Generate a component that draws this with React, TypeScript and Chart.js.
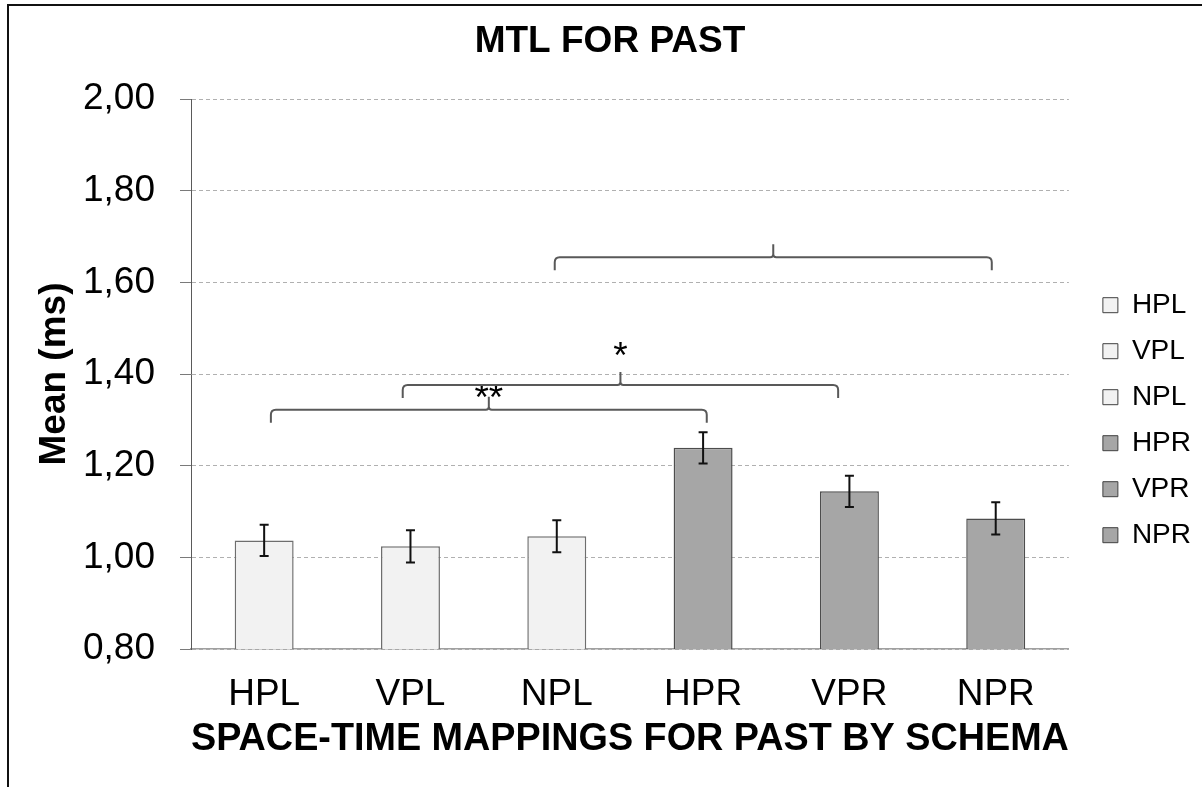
import React, { useEffect, useRef } from 'react';
import { Chart, registerables } from 'chart.js';

Chart.register(...registerables);

// ---- data ----
const categories = ['HPL', 'VPL', 'NPL', 'HPR', 'VPR', 'NPR'];
const means = [1.037, 1.024, 1.046, 1.239, 1.144, 1.085];
const errors = [0.034, 0.035, 0.035, 0.034, 0.034, 0.035];
const barColors = ['#f2f2f2', '#f2f2f2', '#f2f2f2', '#a6a6a6', '#a6a6a6', '#a6a6a6'];
const barBorders = ['#6e6e6e', '#6e6e6e', '#6e6e6e', '#4d4d4d', '#4d4d4d', '#4d4d4d'];
const yMin = 0.8;
const yMax = 2.0;
const yStep = 0.2;
// significance brackets (in category units / value units)
const bracketStart = [0.046, 0.947, 1.986];
const bracketEnd = [3.025, 3.923, 4.973];
const bracketLevel = [1.322, 1.376, 1.655];
const bracketLabel = ['**', '*', ''];
const bracketLabelLevel = [1.322, 1.413, 1.655];
const chartTitle = 'MTL FOR PAST';
const xTitle = 'SPACE-TIME MAPPINGS FOR PAST BY SCHEMA';
const yTitle = 'Mean (ms)';

const FONT = "'Liberation Sans', Arial, sans-serif";

const annotationsPlugin = {
  id: 'errorsAndBrackets',
  afterDatasetsDraw(chart: any) {
    const ctx = chart.ctx;
    const xs = chart.scales.x;
    const ys = chart.scales.y;
    const meta = chart.getDatasetMeta(0);
    ctx.save();
    // error bars
    ctx.strokeStyle = '#111111';
    ctx.lineWidth = 2;
    meta.data.forEach((bar: any, i: number) => {
      const x = bar.x;
      const t = ys.getPixelForValue(means[i] + errors[i]);
      const b = ys.getPixelForValue(means[i] - errors[i]);
      ctx.beginPath();
      ctx.moveTo(x, t);
      ctx.lineTo(x, b);
      ctx.moveTo(x - 4.5, t);
      ctx.lineTo(x + 4.5, t);
      ctx.moveTo(x - 4.5, b);
      ctx.lineTo(x + 4.5, b);
      ctx.stroke();
    });
    // brackets
    ctx.strokeStyle = '#595959';
    ctx.lineWidth = 2;
    const h = 13;
    const r = 5;
    const rc = 3;
    for (let i = 0; i < bracketStart.length; i++) {
      const x1 = xs.getPixelForValue(bracketStart[i]);
      const x2 = xs.getPixelForValue(bracketEnd[i]);
      const y = ys.getPixelForValue(bracketLevel[i]);
      const xm = (x1 + x2) / 2;
      ctx.beginPath();
      ctx.moveTo(x1, y + h);
      ctx.lineTo(x1, y + r);
      ctx.quadraticCurveTo(x1, y, x1 + r, y);
      ctx.lineTo(xm - rc, y);
      ctx.quadraticCurveTo(xm, y, xm, y - rc);
      ctx.lineTo(xm, y - h);
      ctx.moveTo(xm, y - rc);
      ctx.quadraticCurveTo(xm, y, xm + rc, y);
      ctx.lineTo(x2 - r, y);
      ctx.quadraticCurveTo(x2, y, x2, y + r);
      ctx.lineTo(x2, y + h);
      ctx.stroke();
      if (bracketLabel[i]) {
        ctx.fillStyle = '#000000';
        ctx.font = `37px ${FONT}`;
        ctx.textAlign = 'center';
        ctx.textBaseline = 'alphabetic';
        ctx.fillText(bracketLabel[i], xm, ys.getPixelForValue(bracketLabelLevel[i]));
      }
    }
    ctx.restore();
  },
};

export default function App() {
  const canvasRef = useRef<HTMLCanvasElement | null>(null);

  useEffect(() => {
    const canvas = canvasRef.current;
    if (!canvas) return;
    const chart = new Chart(canvas, {
      type: 'bar',
      data: {
        labels: categories,
        datasets: [
          {
            label: 'Mean',
            data: means,
            backgroundColor: barColors,
            borderColor: barBorders,
            borderWidth: 1.5,
            barPercentage: 0.403,
            categoryPercentage: 1,
          },
        ],
      },
      options: {
        responsive: false,
        animation: false,
        devicePixelRatio: 1,
        layout: { padding: { top: 10, bottom: 10, left: 19, right: 1 } },
        plugins: {
          tooltip: { enabled: false },
          title: {
            display: true,
            text: chartTitle,
            color: '#000000',
            font: { family: FONT, size: 37, weight: 'bold' },
            padding: { top: 9.3, bottom: 35.3 },
          },
          legend: {
            display: true,
            position: 'right',
            align: 'center',
            title: {
              display: true,
              text: ' ',
              font: { family: FONT, size: 1 },
              padding: { top: 52.2, bottom: 0 },
            },
            labels: {
              color: '#000000',
              font: { family: FONT, size: 28 },
              boxWidth: 15,
              boxHeight: 15,
              padding: 18,
              generateLabels: () =>
                categories.map((c, i) => ({
                  text: c,
                  fillStyle: barColors[i],
                  strokeStyle: '#404040',
                  fontColor: '#000000',
                  lineWidth: 1,
                  hidden: false,
                  index: i,
                  datasetIndex: 0,
                })),
            },
          },
        },
        scales: {
          x: {
            type: 'category',
            offset: true,
            grid: { display: false, drawTicks: false },
            border: { display: true, color: '#a0a0a0', width: 1.5 },
            ticks: {
              color: '#000000',
              font: { family: FONT, size: 37 },
              padding: 24,
              maxRotation: 0,
            },
            title: {
              display: true,
              text: xTitle,
              color: '#000000',
              font: { family: FONT, size: 38, weight: 'bold' },
              padding: { top: 0, bottom: 14.8 },
            },
            afterFit: (s: any) => {
              s.height = 128;
            },
          },
          y: {
            type: 'linear',
            position: 'left',
            min: yMin,
            max: yMax,
            grid: {
              color: '#b0b0b0',
              lineWidth: 1,
              drawTicks: true,
              tickLength: 11,
              tickColor: '#7a7a7a',
              tickBorderDash: [],
            },
            border: { display: true, color: '#5a5a5a', width: 1, dash: [4, 3] },
            ticks: {
              stepSize: yStep,
              color: '#000000',
              font: { family: FONT, size: 37 },
              padding: 25,
              callback: (v: any) => Number(v).toFixed(2).replace('.', ','),
            },
            title: {
              display: true,
              text: yTitle,
              color: '#000000',
              font: { family: FONT, size: 37, weight: 'bold' },
              padding: { top: 13.8, bottom: 0 },
            },
            afterFit: (s: any) => {
              s.width = 172;
            },
          },
          gap: {
            type: 'linear',
            position: 'right',
            display: true,
            min: 0,
            max: 1,
            grid: { display: false, drawTicks: false },
            border: { display: false },
            ticks: { display: false },
            afterFit: (s: any) => {
              s.width = 16;
            },
          },
        },
      },
      plugins: [annotationsPlugin],
    } as any);
    return () => chart.destroy();
  }, []);

  return (
    <div
      style={{
        position: 'fixed',
        left: 0,
        top: 0,
        width: 1202,
        height: 787,
        overflow: 'hidden',
        background: '#ffffff',
      }}
    >
      <canvas
        ref={canvasRef}
        width={1202}
        height={787}
        style={{ position: 'absolute', left: 0, top: 0, width: 1202, height: 787, display: 'block' }}
      />
      <div
        style={{
          position: 'absolute',
          left: 7,
          top: 4,
          width: 1400,
          height: 1000,
          border: '2px solid #111111',
          boxSizing: 'border-box',
          pointerEvents: 'none',
        }}
      />
    </div>
  );
}
